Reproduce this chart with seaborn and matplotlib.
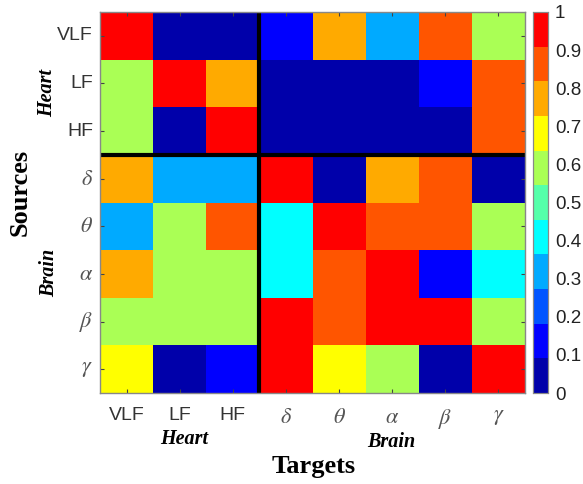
import numpy as np
import pandas as pd
import seaborn as sns
import matplotlib
matplotlib.use("Agg")
import matplotlib.pyplot as plt
from matplotlib.colors import ListedColormap

sources = ["VLF", "LF", "HF", r"$\delta$", r"$\theta$", r"$\alpha$", r"$\beta$", r"$\gamma$"]
targets = ["VLF", "LF", "HF", r"$\delta$", r"$\theta$", r"$\alpha$", r"$\beta$", r"$\gamma$"]

row_VLF = [0.96, 0.04, 0.04, 0.14, 0.78, 0.32, 0.87, 0.60]
row_LF = [0.60, 0.96, 0.78, 0.04, 0.04, 0.04, 0.14, 0.87]
row_HF = [0.60, 0.04, 0.96, 0.04, 0.04, 0.04, 0.04, 0.87]
row_delta = [0.78, 0.32, 0.32, 0.96, 0.04, 0.78, 0.87, 0.04]
row_theta = [0.32, 0.60, 0.87, 0.41, 0.96, 0.87, 0.87, 0.60]
row_alpha = [0.78, 0.60, 0.60, 0.41, 0.87, 0.96, 0.14, 0.41]
row_beta = [0.60, 0.60, 0.60, 0.96, 0.87, 0.96, 0.96, 0.60]
row_gamma = [0.68, 0.04, 0.14, 0.96, 0.68, 0.60, 0.04, 0.96]

cbar_ticks = [0, 0.1, 0.2, 0.3, 0.4, 0.5, 0.6, 0.7, 0.8, 0.9, 1]
cbar_labels = ["0", "0.1", "0.2", "0.3", "0.4", "0.5", "0.6", "0.7", "0.8", "0.9", "1"]

data = pd.DataFrame([row_VLF, row_LF, row_HF, row_delta, row_theta,
                     row_alpha, row_beta, row_gamma],
                    index=sources, columns=targets)

jet11 = ["#0000AA", "#0000FF", "#0055FF", "#00AAFF", "#00FFFF", "#55FFAA",
         "#AAFF55", "#FFFF00", "#FFAA00", "#FF5500", "#FF0000"]
cmap = ListedColormap(jet11)

W, H = 583, 484
plt.rcParams["mathtext.fontset"] = "stix"
fig = plt.figure(figsize=(W / 100, H / 100), dpi=100)

def rect(x0, y0, x1, y1):
    return [x0 / W, 1 - y1 / H, (x1 - x0) / W, (y1 - y0) / H]

ax = fig.add_axes(rect(100, 12, 525, 393))
cax = fig.add_axes(rect(533, 12, 548, 393))

sns.heatmap(data, ax=ax, cbar_ax=cax, cmap=cmap, vmin=0, vmax=1,
            linewidths=0, cbar_kws={"ticks": cbar_ticks})

tick_color = "#333333"
ax.set_xticklabels(targets, rotation=0)
ax.set_yticklabels(sources, rotation=0)
for lbl in ax.get_xticklabels() + ax.get_yticklabels():
    t = lbl.get_text()
    lbl.set_color(tick_color)
    if t.startswith("$"):
        lbl.set_fontsize(16)
        lbl.set_color("#555555")
    else:
        lbl.set_fontsize(14)
        lbl.set_fontfamily("Liberation Sans")
ax.tick_params(axis="both", direction="in", length=3, width=0.8,
               top=True, right=True, color="#444444")
ax.tick_params(axis="y", pad=5)
ax.tick_params(axis="x", pad=10)
for s in ax.spines.values():
    s.set_visible(True)
    s.set_color("#888888")
    s.set_linewidth(1.0)

ax.axhline(3, color="black", lw=3)
ax.axvline(3, color="black", lw=3)
ax.set_xlabel("")
ax.set_ylabel("")

cax.set_yticklabels(cbar_labels)
cax.tick_params(length=0, labelsize=13.5, pad=5, labelcolor="#222222")
for lbl in cax.get_yticklabels():
    lbl.set_fontfamily("Liberation Sans")
for s in cax.spines.values():
    s.set_visible(True)
    s.set_color("#888888")
    s.set_linewidth(0.8)

serif = "Liberation Serif"
def ftext(x, y, s, **kw):
    fig.text(x / W, 1 - y / H, s, ha="center", va="center", family=serif, **kw)

ftext(47, 93, "Heart", fontsize=14.5, fontweight="bold", style="italic", rotation=90)
ftext(49, 273, "Brain", fontsize=14.5, fontweight="bold", style="italic", rotation=90)
ftext(20, 192, "Sources", fontsize=19, fontweight="bold", rotation=90)
ftext(184, 439, "Heart", fontsize=14.5, fontweight="bold", style="italic")
ftext(391, 442, "Brain", fontsize=14.5, fontweight="bold", style="italic")
ftext(314, 467, "Targets", fontsize=19, fontweight="bold")

fig.savefig("out.png", dpi=100)
